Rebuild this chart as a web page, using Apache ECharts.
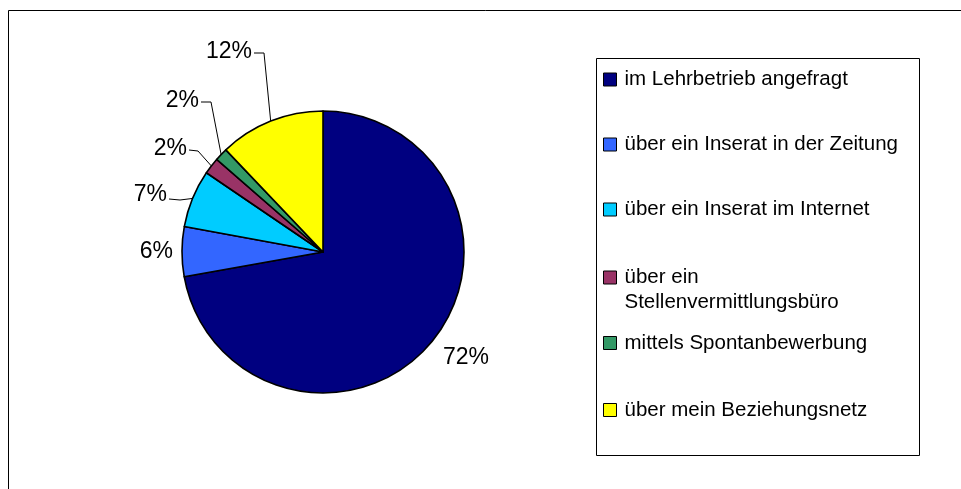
<!DOCTYPE html>
<html><head><meta charset="utf-8">
<script src="https://cdn.jsdelivr.net/npm/echarts@6/dist/echarts.min.js"></script>
<style>html,body{margin:0;padding:0;background:#fff}#c{width:961px;height:489px}</style>
</head><body><div id="c"></div>
<script>
// ---- data ----
const categories = [
  'im Lehrbetrieb angefragt',
  'über ein Inserat in der Zeitung',
  'über ein Inserat im Internet',
  'über ein Stellenvermittlungsbüro',
  'mittels Spontanbewerbung',
  'über mein Beziehungsnetz'
];
const shares = [72.2, 5.7, 6.6, 1.9, 1.5, 12.1];

// ---- style ----
const colors = ['#000080', '#3366FF', '#00CCFF', '#993366', '#339966', '#FFFF00'];
const FONT = "'Liberation Sans', Arial, sans-serif";
// label placement (text anchor and leader-line bends), in px
const labelPlace = [
  { x: 466, y: 358, align: 'center', line: null },
  { x: 173, y: 251.5, align: 'right', line: null },
  { x: 167, y: 195, align: 'right', line: [[180, 200], [169, 199]] },
  { x: 187, y: 148.5, align: 'right', line: [[198, 151], [189, 150]] },
  { x: 199, y: 101, align: 'right', line: [[211, 102], [201, 102]] },
  { x: 252, y: 52, align: 'right', line: [[264, 53], [254, 53]] }
];
const legendCenters = [79.5, 144.5, 209.5, 277.5, 343, 410];

const chart = echarts.init(document.getElementById('c'), null, { renderer: 'canvas' });

const legends = categories.map((name, i) => {
  const wrapped = name.indexOf('Stellenvermittlungsbüro') >= 0;
  const lh = wrapped ? 25 : 22;
  return {
    show: true,
    data: [name],
    orient: 'vertical',
    left: 603,
    top: wrapped ? legendCenters[i] - lh * 1.5 : legendCenters[i] - lh / 2,
    padding: 0,
    itemWidth: 13,
    itemHeight: 13,
    icon: 'rect',
    selectedMode: false,
    itemStyle: { borderColor: '#000', borderWidth: 1 },
    formatter: wrapped ? (n => '\n' + n.replace('über ein ', 'über ein\n')) : (n => n),
    textStyle: {
      fontFamily: FONT, fontSize: 20.5, color: '#000', lineHeight: lh,
      padding: [0, 0, 0, 3]
    }
  };
});

chart.setOption({
  animation: false,
  backgroundColor: '#fff',
  legend: legends,
  graphic: [
    { type: 'rect', shape: { x: 8.5, y: 10.5, width: 1200, height: 1200 },
      style: { fill: 'none', stroke: '#000', lineWidth: 1 }, silent: true },
    { type: 'rect', shape: { x: 596.5, y: 58.5, width: 323, height: 397 },
      style: { fill: 'none', stroke: '#000', lineWidth: 1 }, silent: true }
  ],
  series: [{
    type: 'pie',
    center: [323, 252],
    radius: 141,
    startAngle: 90,
    clockwise: true,
    avoidLabelOverlap: false,
    emphasis: { disabled: true },
    itemStyle: { borderColor: '#000', borderWidth: 1.6 },
    label: {
      show: true,
      position: 'outside',
      fontFamily: FONT,
      fontSize: 23,
      color: '#000',
      formatter: p => Math.round(p.percent) + '%'
    },
    labelLine: { show: true, length: 10, length2: 8, lineStyle: { color: '#000', width: 1 } },
    labelLayout: function (p) {
      const s = labelPlace[p.dataIndex];
      const out = { x: s.x, y: s.y, align: s.align, verticalAlign: 'middle' };
      if (s.line && p.labelLinePoints) {
        out.labelLinePoints = [p.labelLinePoints[0]].concat(s.line);
      }
      return out;
    },
    data: categories.map((name, i) => ({
      name: name,
      value: shares[i],
      itemStyle: { color: colors[i] },
      labelLine: { show: !!labelPlace[i].line }
    }))
  }]
});
</script>
</body></html>
